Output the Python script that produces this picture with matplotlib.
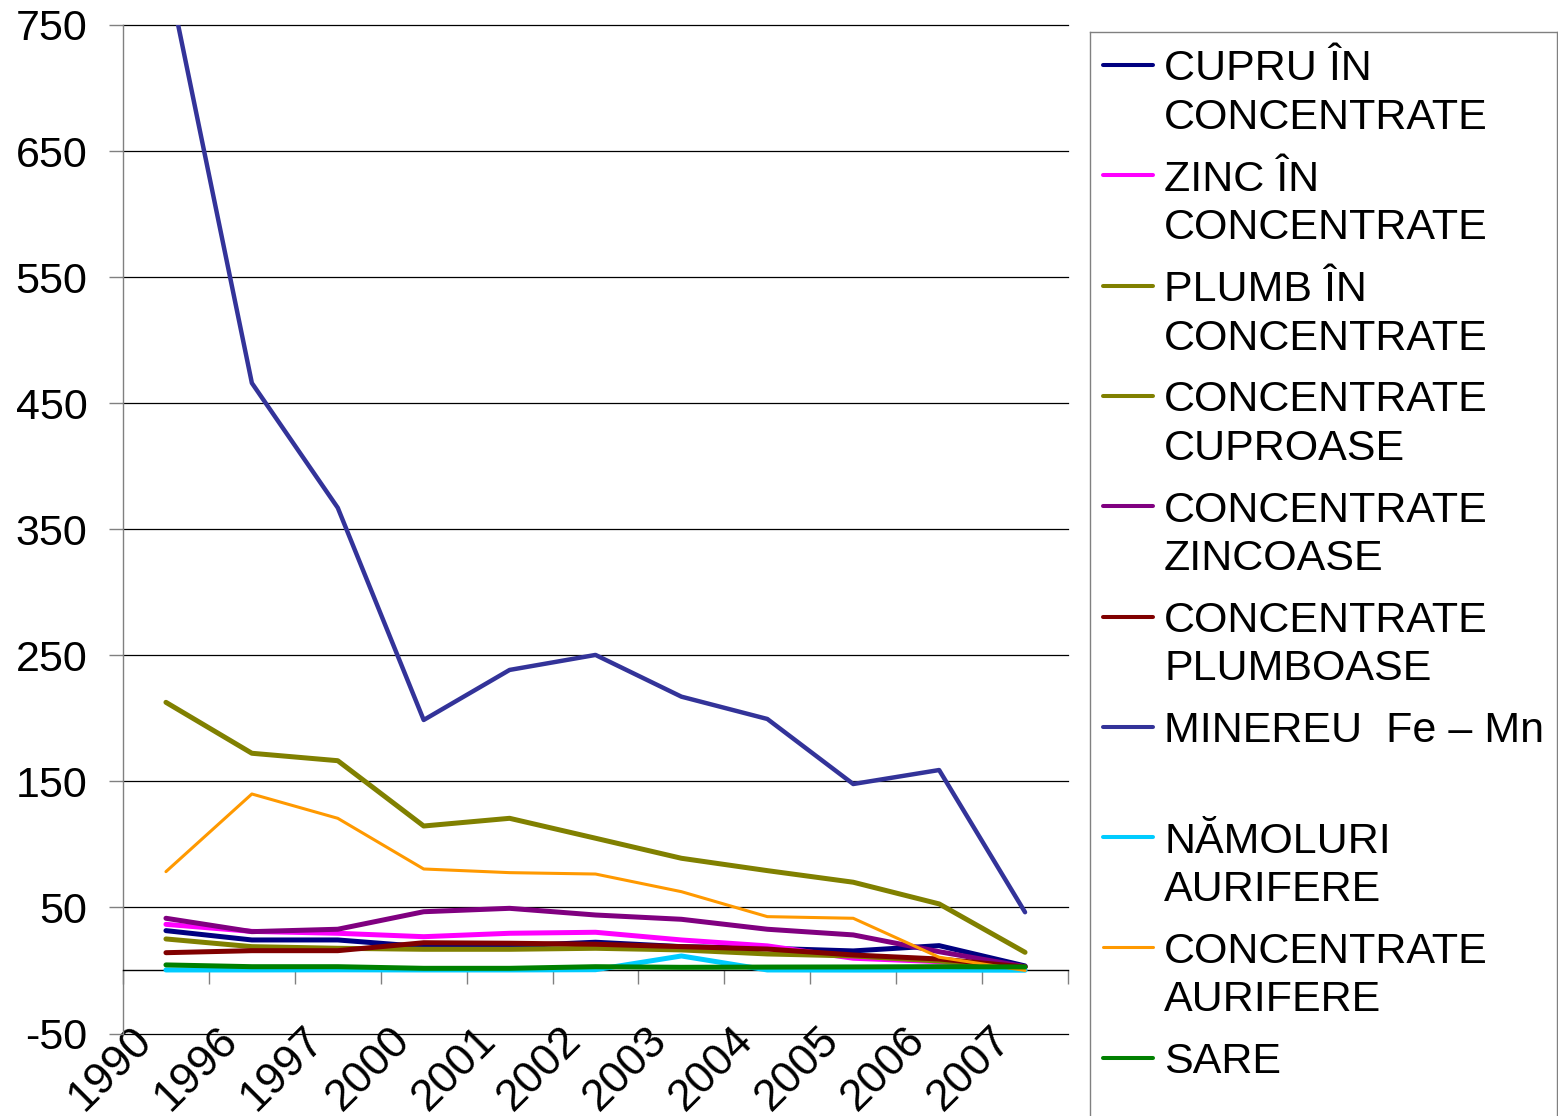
import numpy as np
import matplotlib.pyplot as plt
from matplotlib.transforms import ScaledTranslation

plt.rcParams['font.family'] = ['Liberation Sans', 'DejaVu Sans']
plt.rcParams['axes.unicode_minus'] = False

# Categorii (ani)
ani = ['1990', '1996', '1997', '2000', '2001', '2002', '2003', '2004', '2005', '2006', '2007']

# Serii
cupru = [31.6, 24.2, 24.2, 18.9, 19.4, 22.4, 18.9, 17.6, 15.5, 19.7, 3.6]
zinc = [36.6, 31.0, 29.5, 26.8, 29.5, 30.3, 24.2, 19.5, 9.7, 7.0, 3.0]
plumb = [212.7, 172.3, 166.4, 114.6, 120.7, 104.9, 89.0, 79.2, 70.0, 52.8, 14.4]
cuproase = [25.0, 18.9, 17.6, 16.8, 16.8, 17.6, 16.3, 13.1, 11.5, 7.5, 3.0]
zincoase = [41.4, 30.8, 32.7, 46.6, 49.3, 44.0, 40.6, 32.7, 28.2, 14.9, 3.0]
plumboase = [14.1, 15.7, 15.7, 22.0, 21.6, 20.8, 18.9, 17.0, 12.3, 9.1, 2.8]
minereu = [797, 466, 367, 198.7, 238.4, 250.3, 217.2, 199.5, 147.9, 159.0, 46.2]
namoluri = [0.4, 0.4, 0.5, 0.4, 0.4, 0.6, 11.5, 0.4, 0.3, 0.3, 0.2]
aurifere = [78.4, 140.0, 120.7, 80.5, 77.6, 76.5, 62.5, 42.7, 41.4, 10.5, 0.0]
sare = [4.4, 3.0, 3.0, 1.7, 1.7, 3.0, 2.5, 2.7, 2.8, 3.0, 2.8]

serii = [cupru, zinc, plumb, cuproase, zincoase, plumboase, minereu, namoluri, aurifere, sare]
etichete = [
    ['CUPRU ÎN', 'CONCENTRATE'],
    ['ZINC ÎN', 'CONCENTRATE'],
    ['PLUMB ÎN', 'CONCENTRATE'],
    ['CONCENTRATE', 'CUPROASE'],
    ['CONCENTRATE', 'ZINCOASE'],
    ['CONCENTRATE', 'PLUMBOASE'],
    ['MINEREU  Fe – Mn', ''],
    ['NĂMOLURI', 'AURIFERE'],
    ['CONCENTRATE', 'AURIFERE'],
    ['SARE'],
]
culori = ['#000080', '#FF00FF', '#808000', '#808000', '#800080',
          '#800000', '#333399', '#00CCFF', '#FF9900', '#008000']
grosimi = [3.6, 3.6, 3.6, 3.6, 3.6, 3.6, 3.2, 3.6, 2.2, 3.6]

yticks = np.arange(-50, 751, 100)

fig = plt.figure(figsize=(15.58, 11.16), dpi=100)
ax = fig.add_axes([123 / 1558, 1 - 1033.5 / 1116, 945 / 1558, 1008.5 / 1116])

x = np.arange(len(ani)) + 0.5
for s, c, lw in zip(serii, culori, grosimi):
    ax.plot(x, s, color=c, lw=lw, solid_capstyle='round', solid_joinstyle='round', zorder=3)

ax.set_xlim(0, len(ani))
ax.set_ylim(-50, 750)
ax.set_yticks(yticks)
ax.grid(axis='y', color='black', lw=0.9, zorder=1)
ax.set_axisbelow(True)
for gl in ax.get_ygridlines():
    gl.set_clip_on(False)

for sp in ['top', 'right']:
    ax.spines[sp].set_visible(False)
ax.spines['left'].set_color('#808080')
ax.spines['left'].set_linewidth(1.0)
ax.spines['bottom'].set_position(('data', 0))
ax.spines['bottom'].set_color('black')
ax.spines['bottom'].set_linewidth(1.0)

ax.tick_params(axis='y', length=10, width=1.0, color='#808080', pad=15.5, labelsize=31)
ax.set_xticks(x)
ax.set_xticks(np.arange(len(ani) + 1), minor=True)
ax.set_xticklabels(ani)
ax.tick_params(axis='x', which='major', length=0, pad=35, labelsize=32)
ax.tick_params(axis='x', which='minor', length=10, width=1.0, color='#808080')
off = ScaledTranslation(-6 / 100, 0, fig.dpi_scale_trans)
for lab in ax.get_xticklabels():
    lab.set_rotation(45)
    lab.set_ha('right')
    lab.set_va('top')
    lab.set_transform(lab.get_transform() + off)

# Legenda (desenata manual)
lax = fig.add_axes([1090 / 1558, 0, 467 / 1558, (1116 - 31.5) / 1116])
lax.set_xlim(0, 467)
lax.set_ylim(1116 - 31.5, 0)
lax.set_xticks([])
lax.set_yticks([])
lax.patch.set_alpha(0)
for sp in ['top', 'left', 'right']:
    lax.spines[sp].set_color('#808080')
    lax.spines[sp].set_linewidth(1.0)
lax.spines['bottom'].set_visible(False)

for i, (lines, c, lw) in enumerate(zip(etichete, culori, grosimi)):
    y0 = 33.5 + 110.3 * i
    lax.plot([13, 63], [y0, y0], color=c, lw=min(lw, 2.9), solid_capstyle='round')
    for j, t in enumerate(lines):
        lax.text(74, y0 + 15.5 + 48.5 * j, t, fontsize=31, va='baseline', ha='left')

fig.savefig('out.png', dpi=100)
